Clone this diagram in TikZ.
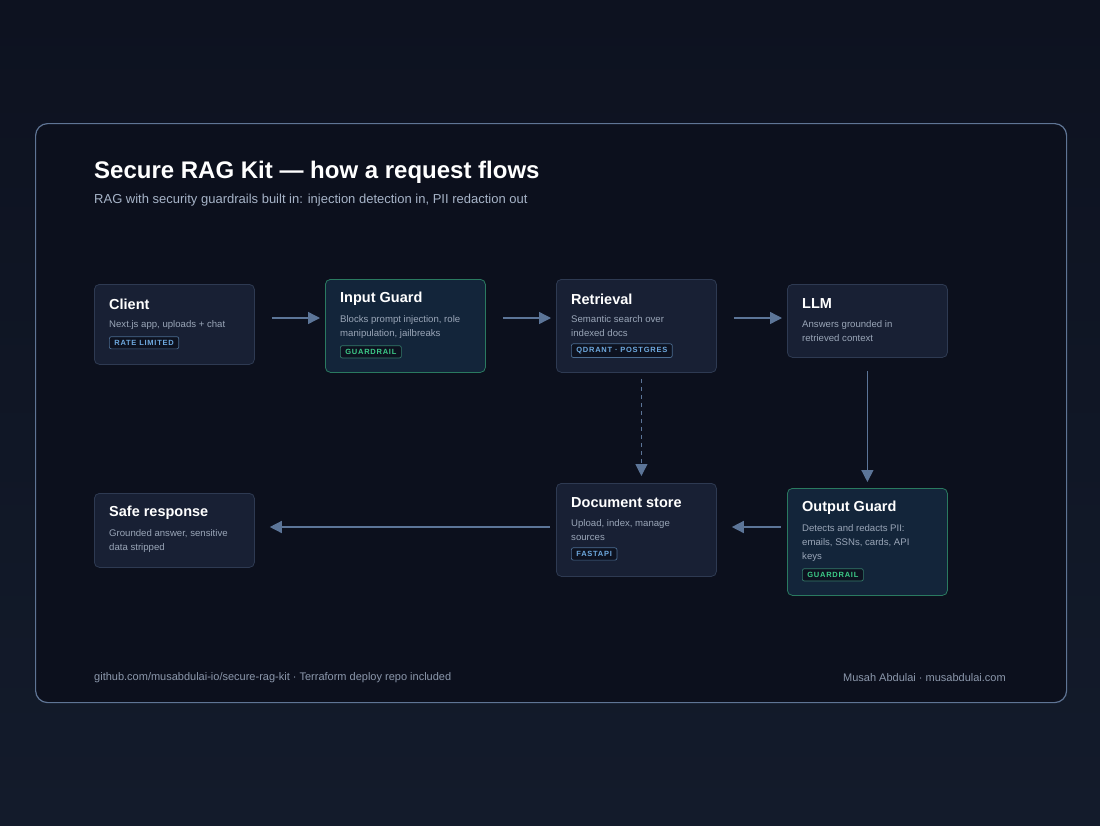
\documentclass[tikz,border=0pt]{standalone}
\usepackage{fontspec}
\setmainfont{Liberation Sans}
\usetikzlibrary{arrows.meta,positioning,calc}
\definecolor{bgA}{HTML}{0D1220}
\definecolor{bgB}{HTML}{131B2B}
\definecolor{frameF}{HTML}{0C101D}
\definecolor{frameD}{HTML}{5F7595}
\definecolor{cardF}{HTML}{182034}
\definecolor{cardD}{HTML}{2E3A52}
\definecolor{guardF}{HTML}{13253A}
\definecolor{guardD}{HTML}{2A7A60}
\definecolor{descC}{HTML}{9AA6B8}
\definecolor{subC}{HTML}{A7B4C8}
\definecolor{arrC}{HTML}{5C7598}
\definecolor{blueT}{HTML}{6EA9DF}
\definecolor{greenT}{HTML}{3CCB88}
\definecolor{footC}{HTML}{8C98AC}
\newfontfamily\badgefont[LetterSpace=10]{Liberation Sans}
\tikzset{
 card/.style={draw=cardD,fill=cardF,rounded corners=5pt,line width=0.8pt,anchor=north west,inner sep=0pt},
 guard/.style={card,draw=guardD,fill=guardF},
 ttl/.style={anchor=west,text=white,font=\bfseries\fontsize{14.5}{16}\selectfont,inner sep=0pt},
 desc/.style={anchor=north west,text=descC,font=\fontsize{9.6}{14}\selectfont,text width=122pt,align=flush left,inner sep=0pt},
 badge/.style={anchor=north west,draw=#1!45!cardD,fill=bgA,rounded corners=2pt,text=#1,font=\badgefont\bfseries\fontsize{7.5}{8}\selectfont,inner xsep=5pt,inner ysep=3.5pt,line width=0.7pt},
 arr/.style={draw=arrC,line width=1.4pt,-{Triangle[length=12pt,width=12pt]}},
}
\newcommand{\card}[9]{%
 \node[#9,minimum width=#4pt,minimum height=#5pt] (#1) at (#2,#3) {};
 \node[ttl] (#1t) at (#2+15,#3+20) {#6};
 \node[desc] (#1d) at (#2+15,#3+36) {#7};
}
\begin{document}
\hyphenpenalty=10000 \exhyphenpenalty=10000
\begin{tikzpicture}[x=1pt,y=-1pt]
\useasboundingbox (0,0) rectangle (1100,825);
\shade[top color=bgA,bottom color=bgB] (0,0) rectangle (1100,825);
\node[draw=frameD,fill=frameF,rounded corners=12pt,line width=1.2pt,minimum width=1031pt,minimum height=579pt,anchor=north west,inner sep=0pt] (frame) at (35,123) {};
\node[anchor=west,text=white,font=\bfseries\fontsize{24}{28}\selectfont,inner sep=0pt] (title) at (94,172) {Secure RAG Kit — how a request flows};
\node[anchor=west,text=subC,font=\fontsize{13}{15}\selectfont,inner sep=0pt] (sub) at (94,200) {RAG with security guardrails built in: injection detection in, PII redaction out};

\card{client}{94}{284}{160}{80}{Client}{Next.js app, uploads + chat}{}{card}
\node[badge=blueT] (clientb) at ($(clientd.south west)+(0,7)$) {RATE LIMITED};
\card{ig}{325}{279}{160}{93}{Input Guard}{Blocks prompt injection, role manipulation, jailbreaks}{}{guard}
\node[badge=greenT] (igb) at ($(igd.south west)+(0,7)$) {GUARDRAIL};
\card{ret}{556}{279}{160}{93}{Retrieval}{Semantic search over indexed docs}{}{card}
\node[badge=blueT] (retb) at ($(retd.south west)+(0,7)$) {QDRANT · POSTGRES};
\card{llm}{787}{284}{160}{73}{LLM}{Answers grounded in retrieved context}{}{card}
\card{safe}{94}{493}{160}{74}{Safe response}{Grounded answer, sensitive data stripped}{}{card}
\card{doc}{556}{483}{160}{93}{Document store}{Upload, index, manage sources}{}{card}
\node[badge=blueT] (docb) at ($(docd.south west)+(0,7)$) {FASTAPI};
\card{og}{787}{488}{160}{107}{Output Guard}{Detects and redacts PII: emails, SSNs, cards, API keys}{}{guard}
\node[badge=greenT] (ogb) at ($(ogd.south west)+(0,7)$) {GUARDRAIL};

\draw[arr] ($(client.north east)+(17,34)$) -- ($(ig.north west)+(-5,39)$);
\draw[arr] ($(ig.north east)+(17,39)$) -- ($(ret.north west)+(-5,39)$);
\draw[arr] ($(ret.north east)+(17,39)$) -- ($(llm.north west)+(-5,34)$);
\draw[arr] ($(llm.south)+(0,13)$) -- ($(og.north)+(0,-6)$);
\draw[arr,dash pattern=on 4pt off 4pt,line width=1.1pt] ($(ret.south)+(5,6)$) -- ($(doc.north)+(5,-7)$);
\draw[arr] ($(og.north west)+(-6,39)$) -- ($(doc.north east)+(15,44)$);
\draw[arr] ($(doc.north west)+(-6,44)$) -- ($(safe.north east)+(15,34)$);

\node[anchor=west,text=footC,font=\fontsize{11}{13}\selectfont,inner sep=0pt] (fl) at (94,678) {github.com/musabdulai-io/secure-rag-kit · Terraform deploy repo included};
\node[anchor=east,text=footC,font=\fontsize{11}{13}\selectfont,inner sep=0pt] (fr) at (1006,678) {Musah Abdulai · musabdulai.com};
\end{tikzpicture}
\end{document}
